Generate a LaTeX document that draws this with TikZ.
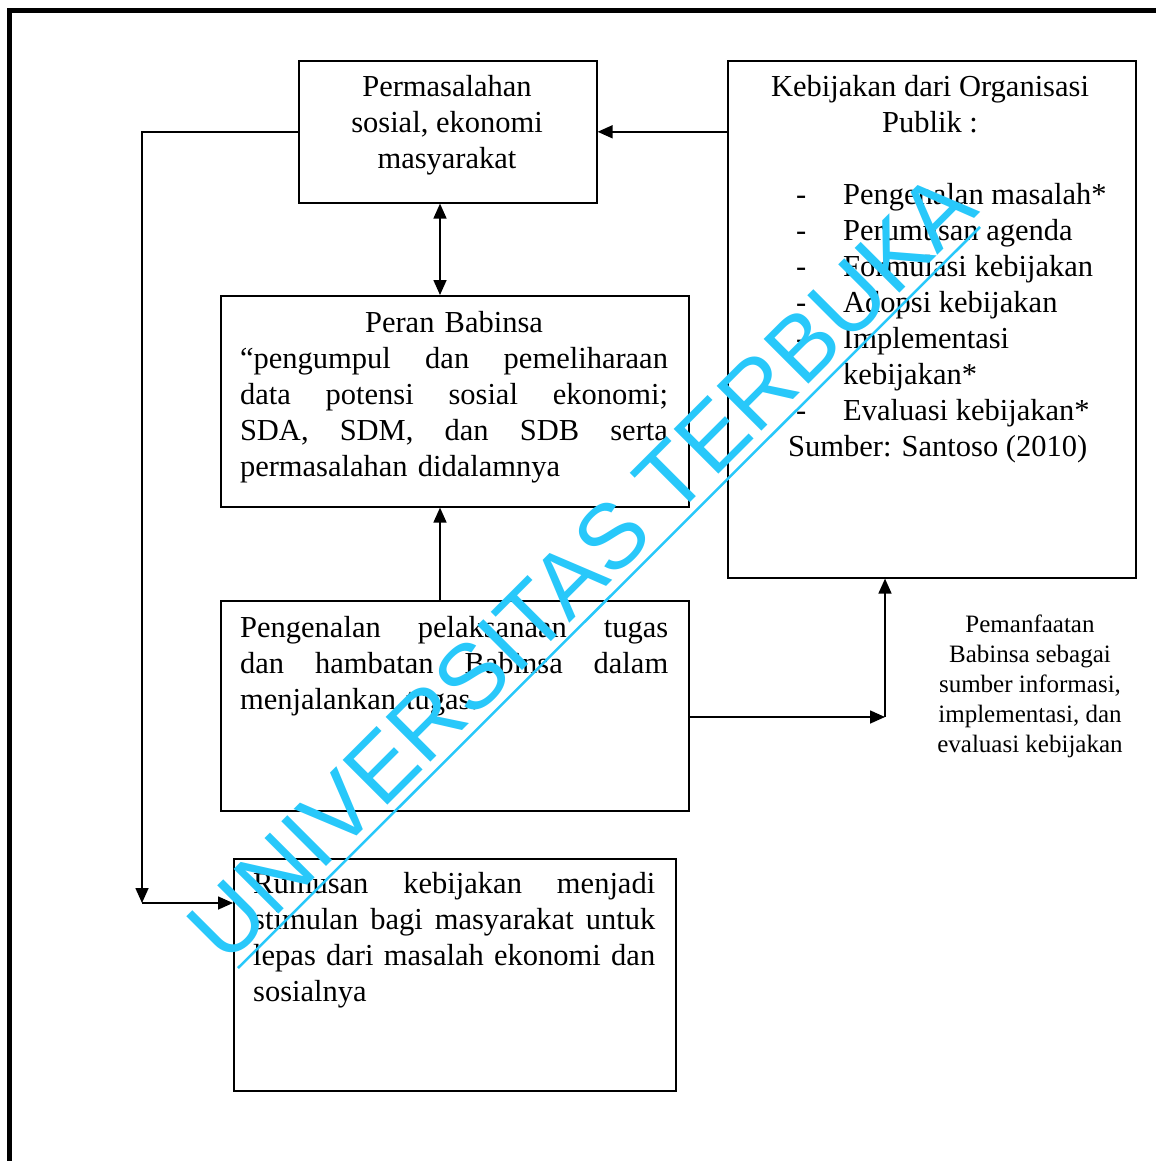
\documentclass[tikz,border=0pt]{standalone}
\usepackage{fontspec}
\setmainfont{Liberation Serif}
\newfontfamily\wmfont{Liberation Sans}
\usetikzlibrary{arrows.meta}
\definecolor{wmcyan}{RGB}{40,200,250}

\begin{document}
\begin{tikzpicture}[x=1pt, y=-1pt,
    box/.style = {rectangle, draw, line width=1.6pt, inner sep=0pt},
    txt/.style = {inner sep=0pt, font=\fontsize{30.5}{36}\selectfont},
    arr/.style = {line width=1.6pt, -{Triangle[length=15pt, width=13pt]}},
    dblarr/.style = {line width=1.6pt,
      {Triangle[length=15pt, width=13pt]}-{Triangle[length=15pt, width=13pt]}}]
  \useasboundingbox (0,0) rectangle (1156,1161);
  \draw[line width=5pt] (9,1161) -- (9,11) -- (1156,11);
  % boxes
  \node[box, minimum width=298pt, minimum height=142pt, anchor=north west]
    (masalah) at (298,60) {};
  \node[box, minimum width=408pt, minimum height=517pt, anchor=north west]
    (kebijakan) at (727,60) {};
  \node[box, minimum width=468pt, minimum height=211pt, anchor=north west]
    (peran) at (220,295) {};
  \node[box, minimum width=468pt, minimum height=210pt, anchor=north west]
    (tugas) at (220,600) {};
  \node[box, minimum width=442pt, minimum height=232pt, anchor=north west]
    (rumusan) at (233,858) {};
  % texts
  \node[txt, align=center] (masalahtxt) at (447,125)
    {Permasalahan\\ sosial, ekonomi\\ masyarakat};
  \node[txt, align=left, text width=428pt] (perantxt) at (454,397)
    {\hspace*{\fill}Peran Babinsa\hspace*{\fill}\null\\
     “pengumpul \hfill dan \hfill pemeliharaan\\
     data \hfill potensi \hfill sosial \hfill ekonomi;\\
     SDA, \hfill SDM, \hfill dan \hfill SDB \hfill serta\\
     permasalahan didalamnya};
  \node[txt, align=left, text width=428pt, anchor=north west] (tugastxt)
    at (240,616)
    {Pengenalan \hfill pelaksanaan \hfill tugas\\
     dan \hfill hambatan \hfill Babinsa \hfill dalam\\
     menjalankan tugas.};
  \node[txt, align=left, text width=402pt, anchor=north west] (rumusantxt)
    at (253,872)
    {Rumusan \hfill kebijakan \hfill menjadi\\
     stimulan \hfill bagi \hfill masyarakat \hfill untuk\\
     lepas \hfill dari \hfill masalah \hfill ekonomi \hfill dan\\
     sosialnya};
  \node[txt, align=center, anchor=north] (kebijakantxt) at (930,75)
    {Kebijakan dari Organisasi\\ Publik :};
  \node[txt, align=left, anchor=north west] (tahap) at (796,183)
    {\makebox[47pt][l]{-}Pengenalan masalah*\\
     \makebox[47pt][l]{-}Perumusan agenda\\
     \makebox[47pt][l]{-}Formulasi kebijakan\\
     \makebox[47pt][l]{-}Adopsi kebijakan\\
     \makebox[47pt][l]{-}Implementasi\\
     \hspace*{47pt}kebijakan*\\
     \makebox[47pt][l]{-}Evaluasi kebijakan*\\
     \hspace*{-8pt}Sumber: Santoso (2010)};
  \node[inner sep=0pt, align=center, font=\fontsize{25}{30}\selectfont]
    (manfaat) at (1030,686)
    {Pemanfaatan\\ Babinsa sebagai\\ sumber informasi,\\
     implementasi, dan\\ evaluasi kebijakan};
  % connectors
  \coordinate (v) at (440,0);
  \coordinate (c1) at (885,717);
  \coordinate (c2) at (142,903);
  \draw[arr] (masalah.east -| kebijakan.west) -- (masalah.east);
  \draw[dblarr] (v |- masalah.south) -- (v |- peran.north);
  \draw[arr] (v |- tugas.north) -- (v |- peran.south);
  \draw[arr] (tugas.east |- c1) -- (c1);
  \draw[arr] (c1) -- (c1 |- kebijakan.south);
  \draw[arr] (masalah.west) -| (c2);
  \draw[arr] (c2) -- (c2 -| rumusan.west);
  % watermark
  \node[inner sep=0pt, rotate=45, anchor=base, text=wmcyan,
    font=\wmfont\fontsize{92}{92}\selectfont] (wm) at (604,589)
    {UNIVERSITAS TERBUKA};
  \draw[wmcyan, line width=2.5pt] (238,968) -- (980,227);
\end{tikzpicture}
\end{document}
